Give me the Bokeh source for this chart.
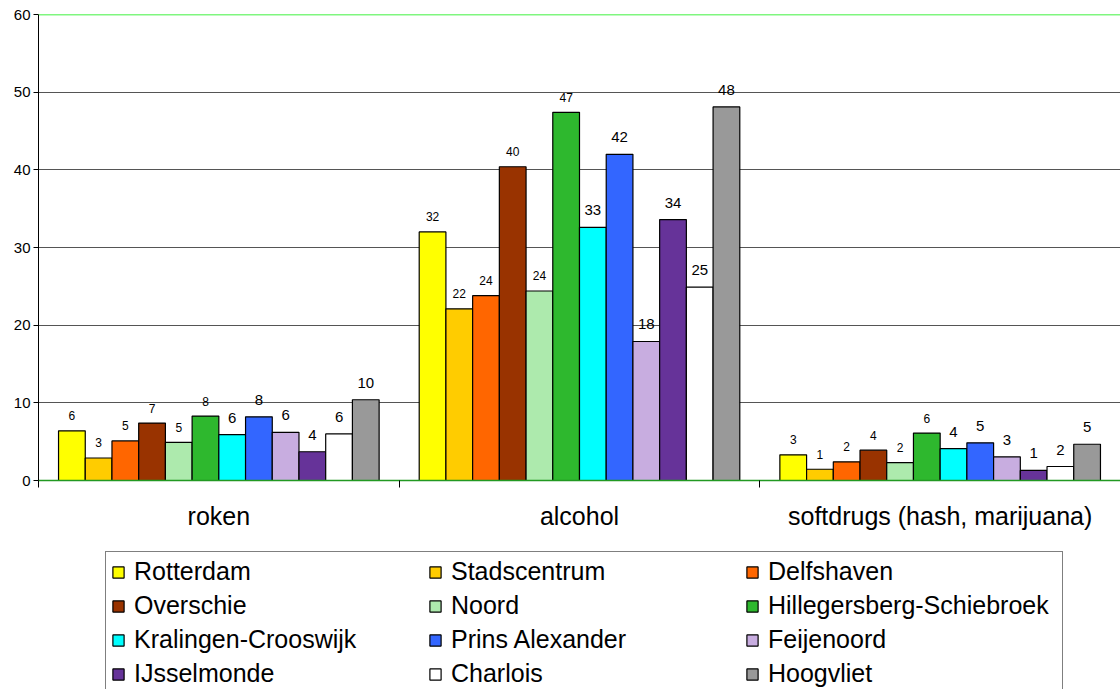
from bokeh.plotting import figure
from bokeh.layouts import column
from bokeh.models import (ColumnDataSource, Range1d, LinearAxis,
                          FixedTicker, Legend, LegendItem, Span)
from bokeh.transform import dodge
from bokeh.core.properties import value
from bokeh.embed import file_html
from bokeh.resources import INLINE

categories = ["roken", "alcohol", "softdrugs (hash, marijuana)"]
districts = ["Rotterdam", "Stadscentrum", "Delfshaven", "Overschie", "Noord",
             "Hillegersberg-Schiebroek", "Kralingen-Crooswijk", "Prins Alexander",
             "Feijenoord", "IJsselmonde", "Charlois", "Hoogvliet"]
roken = [6.4, 2.9, 5.1, 7.4, 4.9, 8.3, 5.9, 8.2, 6.2, 3.7, 6.0, 10.4]
alcohol = [32.0, 22.1, 23.8, 40.4, 24.4, 47.4, 32.6, 42.0, 17.9, 33.6, 24.9, 48.1]
softdrugs = [3.3, 1.45, 2.4, 3.9, 2.3, 6.1, 4.1, 4.85, 3.05, 1.3, 1.8, 4.67]
y_ticks = [0, 10, 20, 30, 40, 50, 60]

colors = ["#FFFF00", "#FFCC00", "#FF6600", "#993300", "#ADEAAD", "#2EB82E",
          "#00FFFF", "#3366FF", "#C8ADE0", "#663399", "#FFFFFF", "#999999"]
label_sizes = ["12px"] * 6 + ["15px"] * 6
label_offsets = [-15] * 6 + [-17] * 6

FONT = "Liberation Sans"

ncat = len(categories)
centers = [k + 0.5 for k in range(ncat)]
data = {"xc": centers}
for i in range(len(districts)):
    vals = [roken[i], alcohol[i], softdrugs[i]]
    data[f"s{i}"] = vals
    data[f"l{i}"] = [f"{round(v):d}" for v in vals]
source = ColumnDataSource(data)

p = figure(x_range=Range1d(0, ncat),
           y_range=Range1d(y_ticks[0], y_ticks[-1]),
           width=1120, height=551, output_backend="svg", toolbar_location=None,
           x_axis_location=None, min_border_left=38, min_border_top=14,
           min_border_right=0, min_border_bottom=71)
p.outline_line_color = None
p.background_fill_color = "white"

n = len(districts)
bar_w = 1.0 / (n + 1.5)
for i, name in enumerate(districts):
    off = (i - (n - 1) / 2) * bar_w
    p.vbar(x=dodge("xc", off), top=f"s{i}", width=bar_w,
           source=source, fill_color=colors[i], line_color="#000000", line_width=1.2)
    p.text(x=dodge("xc", off), y=f"s{i}", text=f"l{i}", source=source,
           text_align="center", text_baseline="middle", y_offset=label_offsets[i],
           text_font=value(FONT), text_font_size=label_sizes[i], text_color="#000000")

# y axis
p.yaxis.ticker = FixedTicker(ticks=y_ticks)
p.yaxis.axis_line_color = "#000000"
p.yaxis.major_tick_line_color = "#000000"
p.yaxis.major_tick_out = 5
p.yaxis.major_tick_in = 0
p.yaxis.minor_tick_line_color = None
p.yaxis.major_label_text_font = FONT
p.yaxis.major_label_text_font_size = "15px"
p.yaxis.major_label_text_color = "#000000"
p.yaxis.major_label_standoff = 3
p.ygrid.grid_line_color = "#555555"
p.ygrid.ticker = FixedTicker(ticks=y_ticks)
p.xgrid.grid_line_color = None

# top green line
p.add_layout(Span(location=y_ticks[-1], dimension="width", line_color="#00EE00", line_width=1.5))

# x tick axis (boundaries between categories)
tick_axis = LinearAxis(ticker=FixedTicker(ticks=list(range(ncat + 1))))
tick_axis.axis_line_color = "#229922"
tick_axis.axis_line_width = 1.5
tick_axis.major_tick_line_color = "#000000"
tick_axis.major_tick_out = 7
tick_axis.major_tick_in = 0
tick_axis.minor_tick_line_color = None
tick_axis.major_label_text_font_size = "1px"
tick_axis.major_label_text_color = None
tick_axis.major_label_standoff = 0
p.add_layout(tick_axis, "below")

cat_axis = LinearAxis(ticker=FixedTicker(ticks=centers),
                      major_label_overrides={c: name for c, name in zip(centers, categories)})
cat_axis.axis_line_color = None
cat_axis.major_tick_line_color = None
cat_axis.minor_tick_line_color = None
cat_axis.major_label_text_font = FONT
cat_axis.major_label_text_font_size = "25px"
cat_axis.major_label_text_color = "#000000"
cat_axis.major_label_standoff = 8
p.add_layout(cat_axis, "below")

# legend figure: legend-only renderers with NaN data (nothing drawn but the legend)
lf = figure(x_range=Range1d(0, ncat), y_range=Range1d(0, 1), width=1120, height=138,
            output_backend="svg", toolbar_location=None,
            x_axis_location=None, y_axis_location=None,
            min_border=0, min_border_left=0, min_border_right=0,
            min_border_top=0, min_border_bottom=0)
lf.outline_line_color = None
lf.xgrid.grid_line_color = None
lf.ygrid.grid_line_color = None
nan_source = ColumnDataSource(dict(x=[float("nan")], top=[float("nan")]))
items = []
for i, name in enumerate(districts):
    r = lf.vbar(x="x", top="top", width=bar_w, source=nan_source,
                fill_color=colors[i], line_color="#000000", line_width=1.2)
    items.append(LegendItem(label=name, renderers=[r]))

legend = Legend(items=items, orientation="horizontal", ncols=3, location=(67, -5),
                label_text_font=FONT, label_text_font_size="25px", label_text_color="#000000",
                glyph_width=14, glyph_height=14, label_standoff=9, label_width=289,
                label_height=29, spacing=5, padding=5, margin=0,
                border_line_color="#000000", border_line_width=1,
                background_fill_color="white", background_fill_alpha=1.0)
lf.add_layout(legend, "center")

open("out.html", "w").write(file_html(column(p, lf, spacing=0), INLINE))
